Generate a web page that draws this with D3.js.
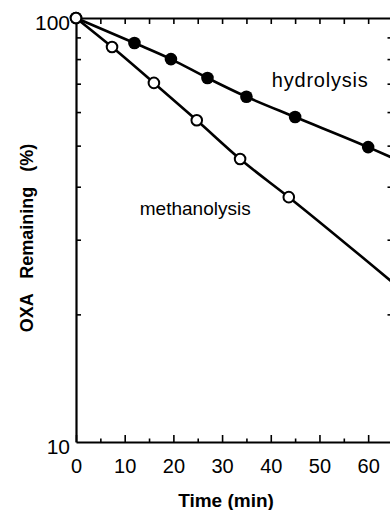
<!DOCTYPE html>
<meta charset="utf-8">
<style>
  body { margin: 0; background: #fff; }
  text { font-family: "Liberation Sans", Arial, sans-serif; fill: #000; }
</style>
<svg width="390" height="510"></svg>
<script src="https://cdn.jsdelivr.net/npm/d3@7"></script>
<script>

// data (time in min, % remaining)
var hydroTime = [0, 12, 19.5, 27, 35, 45, 60];
var hydroValue = [100, 87.3, 80, 72.2, 65.2, 58.4, 49.6];
var methTime = [0, 7.4, 16, 24.8, 33.7, 43.7];
var methValue = [100, 85.4, 70.3, 57.4, 46.5, 37.8];

// drawn curves continue past the last point up to the frame edge
var hydroCurveTime = [0, 12, 19.5, 27, 35, 45, 60, 65];
var hydroCurveValue = [100, 87.3, 80, 72.2, 65.2, 58.4, 49.6, 46.8];
var methCurveTime = [0, 7.4, 16, 24.8, 33.7, 43.7, 65];
var methCurveValue = [100, 85.4, 70.3, 57.4, 46.5, 37.8, 23.8];

var xMajor = [0, 10, 20, 30, 40, 50, 60];
var xMinor = [5, 15, 25, 35, 45, 55];
var yTicks = [20, 30, 40, 50, 60, 70, 80, 90];
var yLabels = [10, 100];

var svg = d3.select("svg");

var x = d3.scaleLinear().domain([0, 65]).range([76, 392.5]);
var y = d3.scaleLog().domain([10, 100]).range([442, 18]);

function zip(a, b) { return a.map(function(d, i) { return [d, b[i]]; }); }

function styleAxis(g) {
  g.select(".domain").attr("stroke", "#000").attr("stroke-width", 2.2);
  g.selectAll(".tick line").attr("stroke", "#000").attr("stroke-width", 1.6);
}

// bottom axis: major + minor ticks inward
svg.append("g")
    .attr("transform", "translate(0,442)")
    .call(d3.axisBottom(x).tickValues(xMajor).tickSize(-7).tickSizeOuter(0).tickPadding(17))
    .call(styleAxis)
    .call(function(g) {
      g.selectAll("text").attr("font-size", 20).attr("dy", "0.71em");
    });
svg.append("g")
    .attr("transform", "translate(0,442)")
    .call(d3.axisBottom(x).tickValues(xMinor).tickSize(-3.5).tickSizeOuter(0).tickFormat(""))
    .call(styleAxis)
    .call(function(g) { g.select(".domain").remove(); });

// top axis
svg.append("g")
    .attr("transform", "translate(0,18)")
    .call(d3.axisTop(x).tickValues(xMajor.concat(xMinor)).tickSize(-6).tickSizeOuter(0).tickFormat(""))
    .call(styleAxis);

// left axis
svg.append("g")
    .attr("transform", "translate(76,0)")
    .call(d3.axisLeft(y).tickValues(yTicks).tickSize(-5).tickSizeOuter(0).tickFormat(""))
    .call(styleAxis);
svg.append("g")
    .attr("transform", "translate(76,0)")
    .call(d3.axisLeft(y).tickValues(yLabels).tickSize(0).tickPadding(6).tickFormat(d3.format("d")))
    .call(function(g) {
      g.select(".domain").remove();
      g.selectAll("text").attr("font-size", 21).attr("dy", "0.55em");
    });

// right axis (sits just outside the frame, ticks show)
svg.append("g")
    .attr("transform", "translate(392.5,0)")
    .call(d3.axisRight(y).tickValues(yTicks).tickSize(-5).tickSizeOuter(0).tickFormat(""))
    .call(styleAxis);

var line = d3.line()
    .x(function(d) { return x(d[0]); })
    .y(function(d) { return y(d[1]); })
    .curve(d3.curveMonotoneX);

svg.append("path")
    .datum(zip(hydroCurveTime, hydroCurveValue))
    .attr("d", line)
    .attr("fill", "none")
    .attr("stroke", "#000")
    .attr("stroke-width", 2.6);

svg.append("path")
    .datum(zip(methCurveTime, methCurveValue))
    .attr("d", line)
    .attr("fill", "none")
    .attr("stroke", "#000")
    .attr("stroke-width", 2.6);

svg.selectAll(".hydro")
    .data(zip(hydroTime, hydroValue))
  .enter().append("circle")
    .attr("class", "hydro")
    .attr("cx", function(d) { return x(d[0]); })
    .attr("cy", function(d) { return y(d[1]); })
    .attr("r", 6.3)
    .attr("fill", "#000");

svg.selectAll(".meth")
    .data(zip(methTime, methValue))
  .enter().append("circle")
    .attr("class", "meth")
    .attr("cx", function(d) { return x(d[0]); })
    .attr("cy", function(d) { return y(d[1]); })
    .attr("r", 5.3)
    .attr("fill", "#fff")
    .attr("stroke", "#000")
    .attr("stroke-width", 2);

// curve labels
svg.append("text")
    .attr("x", x(40.2))
    .attr("y", y(68.8))
    .attr("font-size", 20)
    .attr("letter-spacing", 0.8)
    .text("hydrolysis");

svg.append("text")
    .attr("x", x(13.1))
    .attr("y", y(34.3))
    .attr("font-size", 19)
    .text("methanolysis");

// axis titles
svg.append("text")
    .attr("x", 226)
    .attr("y", 507)
    .attr("text-anchor", "middle")
    .attr("font-size", 19)
    .attr("font-weight", "bold")
    .text("Time (min)");

svg.append("text")
    .attr("transform", "translate(33,238) rotate(-90)")
    .attr("text-anchor", "middle")
    .attr("font-size", 18)
    .attr("font-weight", "bold")
    .attr("xml:space", "preserve")
    .style("white-space", "pre")
    .text("OXA   Remaining   (%)");

</script>
